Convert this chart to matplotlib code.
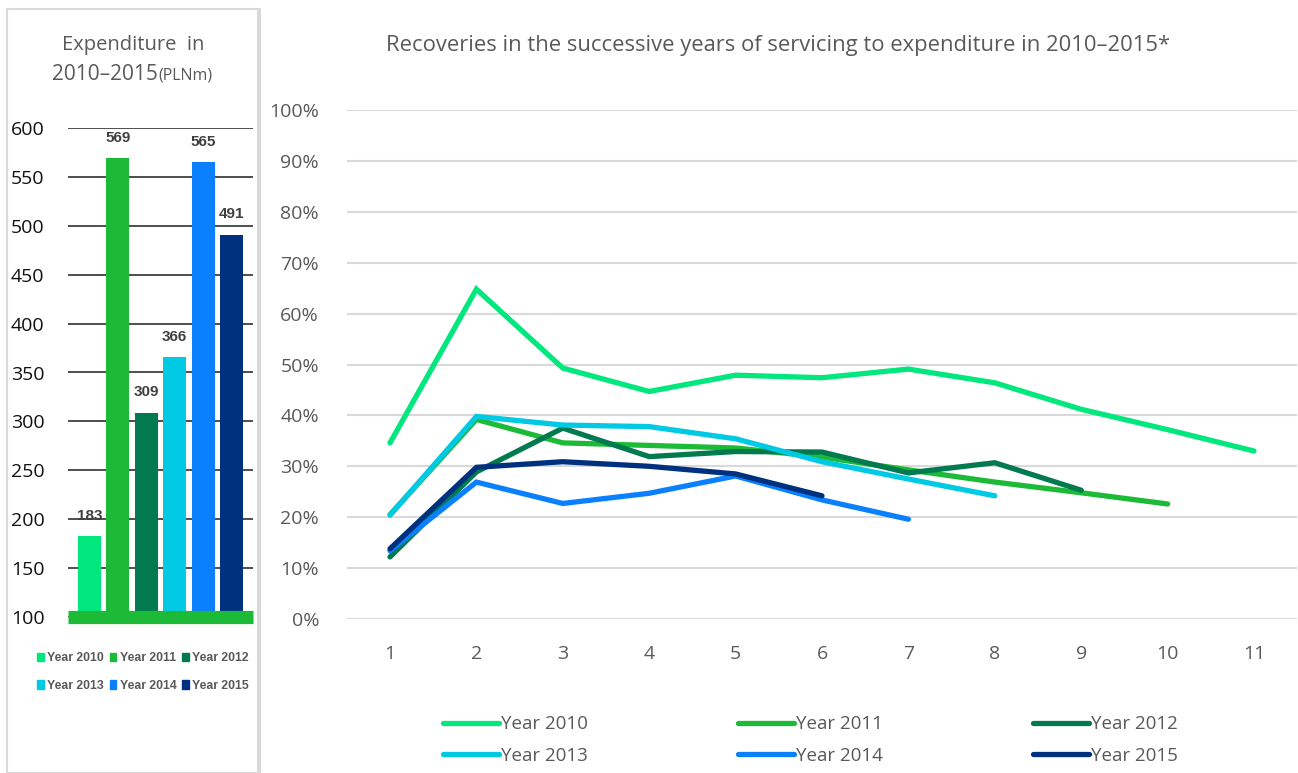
import matplotlib.pyplot as plt
from matplotlib.patches import Rectangle
from matplotlib.lines import Line2D

# expenditure (left panel)
years = ['Year 2010', 'Year 2011', 'Year 2012', 'Year 2013', 'Year 2014', 'Year 2015']
expenditure = [183, 569, 309, 366, 565, 491]
colors = ['#00E77D', '#1DBA38', '#007A4E', '#00CAE3', '#0A80FF', '#00317F']

# recoveries in successive years of servicing (right panel)
service_year = list(range(1, 12))
rec_2010 = [34.6, 64.8, 49.3, 44.7, 47.9, 47.4, 49.1, 46.4, 41.2, 37.2, 33.0]
rec_2011 = [20.5, 39.2, 34.6, 34.1, 33.6, 31.8, 29.3, 26.9, 24.8, 22.6]
rec_2012 = [12.2, 28.9, 37.5, 31.9, 32.9, 32.8, 28.7, 30.7, 25.3]
rec_2013 = [20.4, 39.8, 38.1, 37.8, 35.4, 30.9, 27.5, 24.2]
rec_2014 = [13.4, 26.9, 22.7, 24.7, 28.1, 23.4, 19.6]
rec_2015 = [13.8, 29.8, 30.9, 30.0, 28.5, 24.2]

plt.rcParams['font.family'] = ['Open Sans', 'DejaVu Sans']
GREY = '#595959'

W, H = 1298, 773
fig = plt.figure(figsize=(W / 100, H / 100), dpi=100)


def fx(px):
    return px / W


def fy(py):
    return 1 - py / H


# legends fill column by column; reorder so rows read 2010-2012, 2013-2015
row_order = [0, 3, 1, 4, 2, 5]

# panel frames
fig.add_artist(Rectangle((fx(7), 0), fx(258) - fx(7), fy(9), transform=fig.transFigure,
                         fill=False, edgecolor='#D9D9D9', linewidth=1.5))
fig.add_artist(Line2D([fx(260), fx(260)], [0, fy(9)], transform=fig.transFigure,
                      color='#D9D9D9', linewidth=1.5))

# ---- left: bar chart ----
ax1 = fig.add_axes([fx(68), fy(617), fx(253) - fx(68), fy(128) - fy(617)])
xs = list(range(len(years)))
ax1.bar(xs, expenditure, width=0.81, color=colors, zorder=2)
ax1.set_ylim(100, 600)
ax1.set_xlim(-0.76, 5.76)
ax1.set_yticks(range(100, 601, 50))
ax1.set_xticks([])
ax1.yaxis.grid(True, color='#404040', linewidth=1.3, zorder=1)
ax1.set_axisbelow(True)
for s in ax1.spines.values():
    s.set_visible(False)
ax1.tick_params(axis='y', length=0, pad=17, labelsize=14, labelcolor='#111111')
ax1.axhline(100, color='#1DBA38', linewidth=9.5, clip_on=False, zorder=3,
            solid_capstyle='butt')
for x, v in zip(xs, expenditure):
    ax1.annotate(str(v), (x, v), xytext=(0, 14.5), textcoords='offset points',
                 ha='center', va='center', fontsize=11, fontweight='bold',
                 color='#404040', family=['Liberation Sans', 'DejaVu Sans'])

handles = [Rectangle((0, 0), 1, 1, color=c) for c in colors]
fig.legend([handles[i] for i in row_order], [years[i] for i in row_order],
           loc='center', bbox_to_anchor=(fx(143), fy(672)), ncol=3,
           frameon=False, handlelength=0.55, handleheight=0.7, handletextpad=0.25,
           columnspacing=0.5, labelspacing=1.25,
           prop={'family': ['Liberation Sans', 'DejaVu Sans'], 'weight': 'bold', 'size': 8.8},
           labelcolor=GREY)

fig.text(fx(133), fy(45), 'Expenditure  in', ha='center', va='center', fontsize=14.5, color=GREY)
fig.text(fx(158), fy(80), '2010–2015', ha='right', va='baseline', fontsize=15, color=GREY)
fig.text(fx(158), fy(80), '(PLNm)', ha='left', va='baseline', fontsize=11.5, color=GREY)

# ---- right: line chart ----
ax2 = fig.add_axes([fx(346.8), fy(619), fx(1297.2) - fx(346.8), fy(110) - fy(619)])
series = [rec_2010, rec_2011, rec_2012, rec_2013, rec_2014, rec_2015]
lines = []
for vals, c, lab in zip(series, colors, years):
    ln, = ax2.plot(service_year[:len(vals)], [v / 100 for v in vals], color=c, linewidth=3.8,
                   solid_capstyle='round', solid_joinstyle='miter', label=lab)
    lines.append(ln)
ax2.set_xlim(0.5, 11.5)
ax2.set_ylim(0, 1)
ax2.set_xticks(service_year)
ax2.set_yticks([i / 10 for i in range(11)])
ax2.set_yticklabels([f'{i * 10}%' for i in range(11)])
ax2.yaxis.grid(True, color='#D9D9D9', linewidth=1.5)
ax2.set_axisbelow(True)
for s in ax2.spines.values():
    s.set_visible(False)
ax2.tick_params(axis='y', length=0, pad=20, labelsize=14, labelcolor=GREY)
ax2.tick_params(axis='x', length=0, pad=19, labelsize=14, labelcolor=GREY)

fig.text(fx(778), fy(45), 'Recoveries in the successive years of servicing to expenditure in 2010–2015*',
         ha='center', va='center', fontsize=15.8, color=GREY)

ax2.legend([lines[i] for i in row_order], [years[i] for i in row_order],
           loc='center', bbox_to_anchor=(fx(810), fy(740)), bbox_transform=fig.transFigure,
           ncol=3, frameon=False, handlelength=3.0, handletextpad=0.1, columnspacing=8.0,
           labelspacing=0.7, fontsize=13.5, labelcolor=GREY)

fig.savefig('out.png', dpi=100)
